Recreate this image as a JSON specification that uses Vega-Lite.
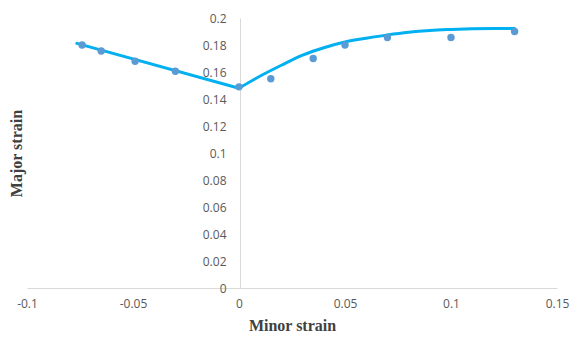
{
  "$schema": "https://vega.github.io/schema/vega-lite/v6.json",
  "width": 530,
  "height": 270,
  "autosize": {"type": "none"},
  "padding": {"left": 27, "top": 18, "right": 20, "bottom": 50},
  "background": "white",
  "config": {
    "view": {"stroke": null},
    "axis": {
      "grid": false,
      "ticks": false,
      "labelFlush": false,
      "domainColor": "#D9D9D9",
      "domainWidth": 1,
      "labelFont": "Open Sans",
      "labelFontSize": 12,
      "labelColor": "#595959",
      "titleFont": "Liberation Serif",
      "titleFontSize": 16,
      "titleFontWeight": "bold",
      "titleColor": "#404040"
    }
  },
  "datasets": {
    "measured": [
      {"minor": -0.074, "major": 0.180},
      {"minor": -0.065, "major": 0.1755},
      {"minor": -0.049, "major": 0.168},
      {"minor": -0.030, "major": 0.1605},
      {"minor": 0.000, "major": 0.149},
      {"minor": 0.015, "major": 0.155},
      {"minor": 0.035, "major": 0.170},
      {"minor": 0.050, "major": 0.180},
      {"minor": 0.070, "major": 0.1855},
      {"minor": 0.100, "major": 0.1855},
      {"minor": 0.130, "major": 0.190}
    ],
    "trend": [
      {"branch": "left", "minor": -0.0765, "major": 0.1812},
      {"branch": "left", "minor": 0.000, "major": 0.148},
      {"branch": "right", "minor": 0.000, "major": 0.148},
      {"branch": "right", "minor": 0.010, "major": 0.157},
      {"branch": "right", "minor": 0.020, "major": 0.165},
      {"branch": "right", "minor": 0.030, "major": 0.1725},
      {"branch": "right", "minor": 0.040, "major": 0.178},
      {"branch": "right", "minor": 0.050, "major": 0.1822},
      {"branch": "right", "minor": 0.060, "major": 0.185},
      {"branch": "right", "minor": 0.070, "major": 0.1875},
      {"branch": "right", "minor": 0.080, "major": 0.1895},
      {"branch": "right", "minor": 0.090, "major": 0.1908},
      {"branch": "right", "minor": 0.100, "major": 0.1915},
      {"branch": "right", "minor": 0.110, "major": 0.192},
      {"branch": "right", "minor": 0.120, "major": 0.1922},
      {"branch": "right", "minor": 0.130, "major": 0.1922}
    ]
  },
  "encoding": {
    "x": {
      "field": "minor",
      "type": "quantitative",
      "scale": {"domain": [-0.1, 0.15], "nice": false, "zero": false},
      "axis": {
        "title": "Minor strain",
        "values": [-0.1, -0.05, 0, 0.05, 0.1, 0.15],
        "labelExpr": "'' + datum.value",
        "labelPadding": 10,
        "titlePadding": 8
      }
    },
    "y": {
      "field": "major",
      "type": "quantitative",
      "scale": {"domain": [0, 0.2], "nice": false},
      "axis": {
        "title": "Major strain",
        "offset": -213,
        "values": [0, 0.02, 0.04, 0.06, 0.08, 0.1, 0.12, 0.14, 0.16, 0.18, 0.2],
        "labelExpr": "'' + datum.value",
        "labelPadding": 14,
        "titleX": -216,
        "titleY": 135
      }
    }
  },
  "layer": [
    {
      "data": {"name": "trend"},
      "mark": {"type": "line", "color": "#00B0F0", "strokeWidth": 3, "interpolate": "monotone", "strokeCap": "round"},
      "encoding": {"detail": {"field": "branch"}}
    },
    {
      "data": {"name": "measured"},
      "mark": {"type": "circle", "color": "#5B9BD5", "size": 55, "opacity": 1}
    }
  ]
}
